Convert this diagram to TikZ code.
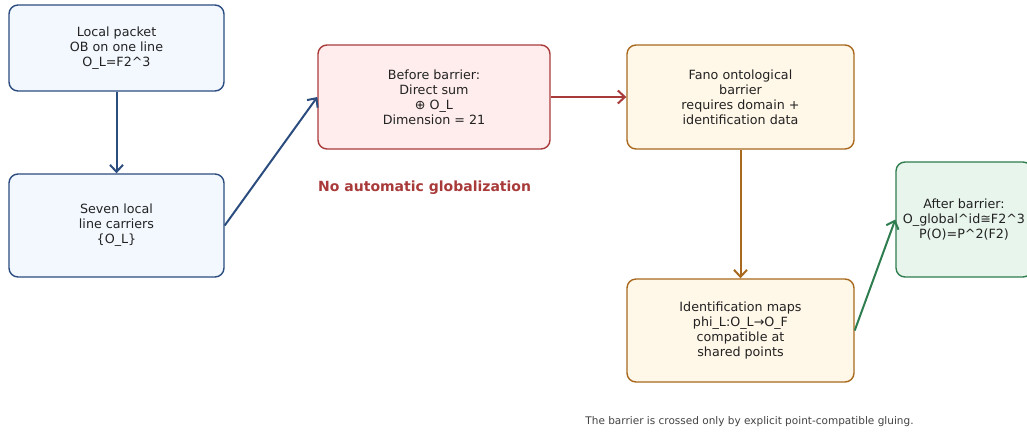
\documentclass[tikz,border=0pt]{standalone}
\usepackage{fontspec}
\setmainfont{DejaVu Sans}
\usetikzlibrary{arrows.meta}
\definecolor{bluebd}{HTML}{2B4C7E}
\definecolor{bluefill}{HTML}{F3F8FF}
\definecolor{redbd}{HTML}{A93A3A}
\definecolor{redfill}{HTML}{FFECEC}
\definecolor{orbd}{HTML}{A8691E}
\definecolor{orfill}{HTML}{FFF7E8}
\definecolor{grbd}{HTML}{2E7D4E}
\definecolor{grfill}{HTML}{E8F5EC}
\definecolor{txt}{HTML}{222222}
\tikzset{
  box/.style={rounded corners=9pt, line width=1.4pt, align=center, text=txt,
    font=\fontsize{12.7}{15}\selectfont, inner sep=0pt},
  bluebox/.style={box, draw=bluebd, fill=bluefill},
  redbox/.style={box, draw=redbd, fill=redfill},
  orbox/.style={box, draw=orbd, fill=orfill},
  grbox/.style={box, draw=grbd, fill=grfill},
  conn/.style={line width=2pt, -{Straight Barb[length=7pt,width=13pt,line width=2pt]}},
}
\begin{document}
\begin{tikzpicture}[x=1pt,y=-1pt]
\useasboundingbox (0,0) rectangle (1027,432);
\clip (0,0) rectangle (1027,432);
\node[bluebox, minimum width=215pt, minimum height=86pt] (a) at (116.5,48) {Local packet\\OB on one line\\O\_L=F2\^{}3};
\node[bluebox, minimum width=215pt, minimum height=103pt] (b) at (116.5,225.5) {Seven local\\line carriers\\\{O\_L\}};
\node[redbox, minimum width=232pt, minimum height=104pt] (c) at (434,97) {Before barrier:\\Direct sum\\⊕ O\_L\\Dimension = 21};
\node[orbox, minimum width=227pt, minimum height=104pt] (d) at (740.5,97) {Fano ontological\\barrier\\requires domain +\\identification data};
\node[orbox, minimum width=227pt, minimum height=103pt] (e) at (740.5,330.5) {Identification maps\\phi\_L:O\_L→O\_F\\compatible at\\shared points};
\node[grbox, minimum width=136pt, minimum height=115pt] (f) at (964,219.5) {After barrier:\\O\_global\^{}id≅F2\^{}3\\P(O)=P\^{}2(F2)};
\node[anchor=west, text=redbd, font=\fontsize{14}{16}\selectfont\bfseries, inner sep=0pt] (nag) at (318,188) {No automatic globalization};
\node[text=txt!85, font=\fontsize{10.5}{12}\selectfont, inner sep=0pt] (foot) at (749.5,422) {The barrier is crossed only by explicit point-compatible gluing.};
\draw[conn, bluebd] (a.south) -- (b.north);
\draw[conn, bluebd] (b.east) -- (c.west);
\draw[conn, redbd] (c.east) -- (d.west);
\draw[conn, orbd] (d.south) -- (e.north);
\draw[conn, grbd] (e.east) -- (f.west);
\end{tikzpicture}
\end{document}
